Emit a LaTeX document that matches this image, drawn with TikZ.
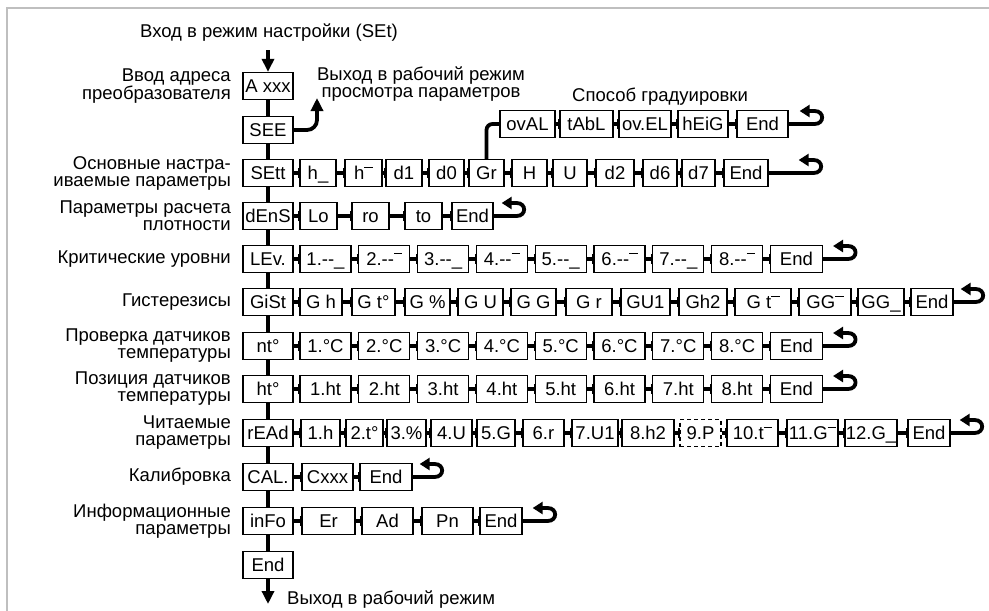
\documentclass[tikz,border=0pt]{standalone}
\usepackage{fontspec}
\setmainfont{Liberation Sans}
\usetikzlibrary{arrows.meta}
\newcommand\topbar{\rule[0.62em]{0.45em}{0.075em}}
\newcommand\fs{\fontsize{18.5}{17}\selectfont}
\newcommand\dd{-{}-}
% \mybox[opt]{name}{x1}{x2}{y}{text}
\newcommand\mybox[6][]{\node[box,#1,minimum width={(#4-#3)*1pt}] (#2) at ({(#3+#4)/2},#5) {#6};}
\newcommand\mylink[2]{\draw[conn] (#1.east) -- (#2.west); \draw[tick] ([yshift=-5pt]#2.west) -- ([yshift=5pt]#2.west);}
\newcommand\myhook[2]{\draw[ret] (#1.east) -- ++(#2,0) .. controls +(10,0) and +(10,0) .. ++(0,-13) -- ++(-15,0);}
\begin{document}
\begin{tikzpicture}[x=1pt,y=-1pt,
  box/.style={draw, line width=1.3pt, fill=white, minimum height=27pt, inner sep=0pt, font=\fs, text height=15.2pt, text depth=2pt},
  dbox/.style={dashed, dash pattern=on 4pt off 3pt},
  conn/.style={line width=3.8pt},
  tick/.style={line width=2pt},
  ret/.style={conn, -{Triangle[length=10pt,width=12pt]}},
  dn/.style={conn, -{Triangle[length=13pt,width=12pt]}},
  lbl/.style={font=\fs, align=right, anchor=east, inner sep=0pt},
  txt/.style={font=\fs, inner sep=0pt}]
\useasboundingbox (0,0) rectangle (989,611);
\draw[black!25, line width=1.5pt] (989,8) -- (7,8) -- (7,611);

% titles
\node[txt, anchor=base] (tin) at (269,37) {Вход в режим настройки (SEt)};
\coordinate (tinend) at (268,50);
\node[txt, align=center] (texit) at (421,84) {Выход в рабочий режим\\просмотра параметров};
\node[txt, anchor=base] (tgrad) at (660,101) {Способ градуировки};
\node[txt, anchor=base west] (tout) at (287,604) {Выход в рабочий режим};
\coordinate (outend) at (268,604);
\coordinate (exend) at (317,98);

% left labels
\node[lbl] (L1) at (231,86) {Ввод адреса\\преобразователя};
\node[lbl] (L2) at (231,173) {Основные настра-\\иваемые параметры};
\node[lbl] (L3) at (231,216) {Параметры расчета\\плотности};
\node[lbl] (L4) at (231,259) {Критические уровни};
\node[lbl] (L5) at (231,302) {Гистерезисы};
\node[lbl] (L6) at (231,346) {Проверка датчиков\\температуры};
\node[lbl] (L7) at (231,389) {Позиция датчиков\\температуры};
\node[lbl] (L8) at (231,433) {Читаемые\\параметры};
\node[lbl] (L9) at (231,477) {Калибровка};
\node[lbl] (L10) at (231,521) {Информационные\\параметры};

% spine
\mybox{A}{243}{293}{86}{A xxx}
\mybox{SEE}{243}{293}{130}{SEE}
\mybox{s0}{243}{293}{173}{SEtt}
\mybox{d0}{243}{293}{216}{dEnS}
\mybox{l0}{243}{293}{259}{LEv.}
\mybox{g0}{243}{293}{302}{GiSt}
\mybox{n0}{243}{293}{346}{nt°}
\mybox{h0}{243}{293}{389}{ht°}
\mybox{r0}{243}{293}{433}{rEAd}
\mybox{c0}{243}{293}{477}{CAL.}
\mybox{i0}{243}{293}{521}{inFo}
\mybox{E}{243}{293}{565}{End}

\draw[dn] (tinend) -- (A.north);
\draw[conn] (A.south) -- (SEE.north);
\draw[conn] (SEE.south) -- (s0.north);
\draw[conn] (s0.south) -- (d0.north);
\draw[conn] (d0.south) -- (l0.north);
\draw[conn] (l0.south) -- (g0.north);
\draw[conn] (g0.south) -- (n0.north);
\draw[conn] (n0.south) -- (h0.north);
\draw[conn] (h0.south) -- (r0.north);
\draw[conn] (r0.south) -- (c0.north);
\draw[conn] (c0.south) -- (i0.north);
\draw[conn] (i0.south) -- (E.north);
\draw[dn] (E.south) -- (outend);
\draw[dn, rounded corners=10pt] (SEE.east) -- (317,130) -- (exend);

% SEtt row
\mybox{s1}{300}{336}{173}{h\_}
\mybox{s2}{345}{382}{173}{h\topbar}
\mybox{s3}{386}{422}{173}{d1}
\mybox{s4}{429}{464}{173}{d0}
\mybox{s5}{469}{504}{173}{Gr}
\mybox{s6}{512}{547}{173}{H}
\mybox{s7}{553}{587}{173}{U}
\mybox{s8}{596}{634}{173}{d2}
\mybox{s9}{643}{677}{173}{d6}
\mybox{s10}{682}{715}{173}{d7}
\mybox{s11}{724}{768}{173}{End}
\foreach \a/\b in {s0/s1,s1/s2,s2/s3,s3/s4,s4/s5,s5/s6,s6/s7,s7/s8,s8/s9,s9/s10,s10/s11}{\mylink{\a}{\b}}
\myhook{s11}{45}

% graduation row
\mybox{q1}{500}{555}{124}{ovAL}
\mybox{q2}{560}{613}{124}{tAbL}
\mybox{q3}{619}{671}{124}{ov.EL}
\mybox{q4}{678}{728}{124}{hEiG}
\mybox{q5}{737}{788}{124}{End}
\draw[conn, rounded corners=6pt] (s5.north) |- (q1.west);
\foreach \a/\b in {q1/q2,q2/q3,q3/q4,q4/q5}{\mylink{\a}{\b}}
\myhook{q5}{26}

% dEnS row
\mybox{d1}{300}{337}{216}{Lo}
\mybox{d2}{352}{389}{216}{ro}
\mybox{d3}{405}{442}{216}{to}
\mybox{d4}{452}{493}{216}{End}
\foreach \a/\b in {d0/d1,d1/d2,d2/d3,d3/d4}{\mylink{\a}{\b}}
\myhook{d4}{23}

% LEv row
\mybox{l1}{300}{351}{259}{1.\dd\_}
\mybox{l2}{358.8}{409.8}{259}{2.\dd\topbar}
\mybox{l3}{417.6}{468.6}{259}{3.\dd\_}
\mybox{l4}{476.4}{527.4}{259}{4.\dd\topbar}
\mybox{l5}{535.2}{586.2}{259}{5.\dd\_}
\mybox{l6}{594}{645}{259}{6.\dd\topbar}
\mybox{l7}{652.8}{703.8}{259}{7.\dd\_}
\mybox{l8}{711.6}{762.6}{259}{8.\dd\topbar}
\mybox{l9}{770.4}{822.4}{259}{End}
\foreach \a/\b in {l0/l1,l1/l2,l2/l3,l3/l4,l4/l5,l5/l6,l6/l7,l7/l8,l8/l9}{\mylink{\a}{\b}}
\myhook{l9}{25}

% GiSt row
\mybox{g1}{300}{342}{302}{G h}
\mybox{g2}{352}{395}{302}{G t°}
\mybox{g3}{405}{450}{302}{G \%}
\mybox{g4}{458}{503}{302}{G U}
\mybox{g5}{511}{556}{302}{G G}
\mybox{g6}{566}{612}{302}{G r}
\mybox{g7}{621}{670}{302}{GU1}
\mybox{g8}{679}{727}{302}{Gh2}
\mybox{g9}{735}{791}{302}{G t\topbar}
\mybox{g10}{799}{851}{302}{GG\topbar}
\mybox{g11}{858}{904}{302}{GG\_}
\mybox{g12}{911}{953}{302}{End}
\foreach \a/\b in {g0/g1,g1/g2,g2/g3,g3/g4,g4/g5,g5/g6,g6/g7,g7/g8,g8/g9,g9/g10,g10/g11,g11/g12}{\mylink{\a}{\b}}
\myhook{g12}{22}

% nt row
\mybox{n1}{300}{351}{346}{1.°C}
\mybox{n2}{358.8}{409.8}{346}{2.°C}
\mybox{n3}{417.6}{468.6}{346}{3.°C}
\mybox{n4}{476.4}{527.4}{346}{4.°C}
\mybox{n5}{535.2}{586.2}{346}{5.°C}
\mybox{n6}{594}{645}{346}{6.°C}
\mybox{n7}{652.8}{703.8}{346}{7.°C}
\mybox{n8}{711.6}{762.6}{346}{8.°C}
\mybox{n9}{770.4}{822.4}{346}{End}
\foreach \a/\b in {n0/n1,n1/n2,n2/n3,n3/n4,n4/n5,n5/n6,n6/n7,n7/n8,n8/n9}{\mylink{\a}{\b}}
\myhook{n9}{25}

% ht row
\mybox{h1}{300}{351}{389}{1.ht}
\mybox{h2}{358.8}{409.8}{389}{2.ht}
\mybox{h3}{417.6}{468.6}{389}{3.ht}
\mybox{h4}{476.4}{527.4}{389}{4.ht}
\mybox{h5}{535.2}{586.2}{389}{5.ht}
\mybox{h6}{594}{645}{389}{6.ht}
\mybox{h7}{652.8}{703.8}{389}{7.ht}
\mybox{h8}{711.6}{762.6}{389}{8.ht}
\mybox{h9}{770.4}{822.4}{389}{End}
\foreach \a/\b in {h0/h1,h1/h2,h2/h3,h3/h4,h4/h5,h5/h6,h6/h7,h7/h8,h8/h9}{\mylink{\a}{\b}}
\myhook{h9}{25}

% rEAd row
\mybox{r1}{301}{340}{433}{1.h}
\mybox{r2}{346}{383}{433}{2.t°}
\mybox{r3}{387}{426}{433}{3.\%}
\mybox{r4}{431}{472}{433}{4.U}
\mybox{r5}{477}{515}{433}{5.G}
\mybox{r6}{523}{564}{433}{6.r}
\mybox{r7}{572}{618}{433}{7.U1}
\mybox{r8}{622}{674}{433}{8.h2}
\mybox[dbox]{r9}{680}{721}{433}{9.P}
\mybox{r10}{727}{778}{433}{10.t\topbar}
\mybox{r11}{787}{838}{433}{11.G\topbar}
\mybox{r12}{845}{897}{433}{12.G\_}
\mybox{r13}{908}{950}{433}{End}
\foreach \a/\b in {r0/r1,r1/r2,r2/r3,r3/r4,r4/r5,r5/r6,r6/r7,r7/r8,r8/r9,r9/r10,r10/r11,r11/r12,r12/r13}{\mylink{\a}{\b}}
\myhook{r13}{24}

% CAL row
\mybox{c1}{302}{353}{477}{Cxxx}
\mybox{c2}{360}{412}{477}{End}
\foreach \a/\b in {c0/c1,c1/c2}{\mylink{\a}{\b}}
\myhook{c2}{22}

% inFo row
\mybox{i1}{302}{355}{521}{Er}
\mybox{i2}{362}{413}{521}{Ad}
\mybox{i3}{422}{473}{521}{Pn}
\mybox{i4}{480}{522}{521}{End}
\foreach \a/\b in {i0/i1,i1/i2,i2/i3,i3/i4}{\mylink{\a}{\b}}
\myhook{i4}{25}
\end{tikzpicture}
\end{document}
